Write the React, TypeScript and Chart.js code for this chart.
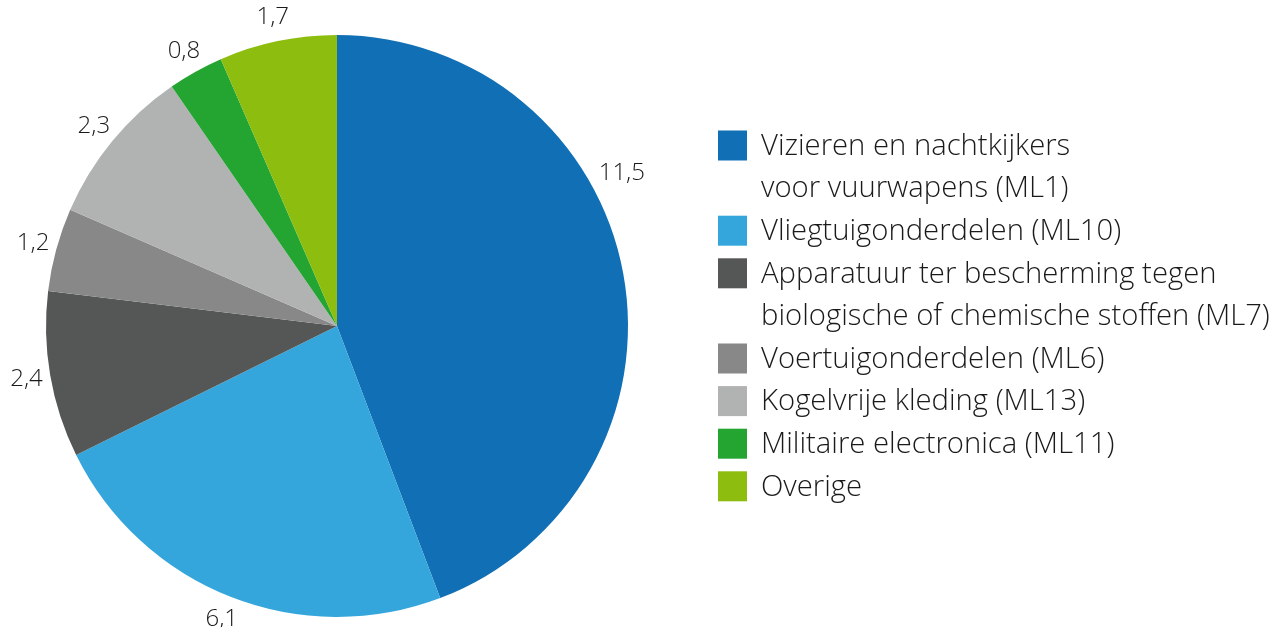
import React, { useEffect, useRef } from "react";
import { Chart, registerables } from "chart.js";

Chart.register(...registerables);

const categories: string[][] = [
  ["Vizieren en nachtkijkers", "voor vuurwapens (ML1)"],
  ["Vliegtuigonderdelen (ML10)"],
  ["Apparatuur ter bescherming tegen", "biologische of chemische stoffen (ML7)"],
  ["Voertuigonderdelen (ML6)"],
  ["Kogelvrije kleding (ML13)"],
  ["Militaire electronica (ML11)"],
  ["Overige"],
];
const values = [11.5, 6.1, 2.4, 1.2, 2.3, 0.8, 1.7];
const colors = ["#116fb5", "#35a6dc", "#545756", "#878887", "#b1b3b3", "#24a532", "#8cbd0f"];

const FONT = '"Open Sans", sans-serif';
const TEXT_COLOR = "#1a1a1a";

const outsideLabels = {
  id: "outsideLabels",
  afterDatasetsDraw(chart: any, _args: any, opts: any) {
    const ctx = chart.ctx;
    const meta = chart.getDatasetMeta(0);
    ctx.save();
    ctx.font = `300 ${opts.size}px ${FONT}`;
    ctx.fillStyle = TEXT_COLOR;
    ctx.textAlign = "center";
    ctx.textBaseline = "middle";
    meta.data.forEach((arc: any, i: number) => {
      const p = arc.getProps(["x", "y", "startAngle", "endAngle", "outerRadius"], true);
      let a = (p.startAngle + p.endAngle) / 2;
      const shift = opts.angleShift?.[i] || 0;
      a += shift;
      const r = p.outerRadius + opts.offset + (opts.extraOffset?.[i] || 0);
      const txt = String(values[i]).replace(".", ",");
      ctx.fillText(txt, p.x + r * Math.cos(a), p.y + r * Math.sin(a));
    });
    ctx.restore();
  },
};

const sideLegend = {
  id: "sideLegend",
  afterDraw(chart: any, _args: any, opts: any) {
    const ctx = chart.ctx;
    ctx.save();
    let longest = "";
    categories.forEach((c) => c.forEach((l) => { if (l.length > longest.length) longest = l; }));
    ctx.font = `300 100px ${FONT}`;
    const w100 = ctx.measureText(longest).width;
    const size = Math.min(30, (100 * opts.maxWidth) / w100);
    ctx.font = `300 ${size}px ${FONT}`;
    ctx.textAlign = "left";
    ctx.textBaseline = "middle";
    let line = 0;
    categories.forEach((lines, i) => {
      const yc = opts.top + line * opts.lineHeight;
      ctx.fillStyle = colors[i];
      ctx.fillRect(opts.boxX, yc - opts.boxH / 2, opts.boxW, opts.boxH);
      ctx.fillStyle = TEXT_COLOR;
      lines.forEach((l, k) => {
        ctx.fillText(l, opts.textX, opts.top + (line + k) * opts.lineHeight + 1);
      });
      line += lines.length;
    });
    ctx.restore();
  },
};

export default function App() {
  const ref = useRef<HTMLCanvasElement | null>(null);
  useEffect(() => {
    if (!ref.current) return;
    const chart = new Chart(ref.current, {
      type: "pie",
      data: {
        labels: categories.map((c) => c.join(" ")),
        datasets: [
          {
            data: values,
            backgroundColor: colors,
            borderWidth: 0,
            hoverOffset: 0,
          },
        ],
      },
      options: {
        responsive: false,
        animation: false,
        layout: { padding: { left: 46, right: 656, top: 35, bottom: 10 } },
        plugins: {
          legend: { display: false },
          tooltip: { enabled: false },
          outsideLabels: { size: 24, offset: 24, angleShift: { 0: -0.31 }, extraOffset: { 0: 8 } },
          sideLegend: {
            top: 145.5,
            lineHeight: 42.6,
            boxX: 718,
            boxW: 29,
            boxH: 30,
            textX: 761,
            maxWidth: 509,
          },
        } as any,
      },
      plugins: [outsideLabels, sideLegend],
    });
    return () => chart.destroy();
  }, []);
  return (
    <div style={{ position: "absolute", left: 0, top: 0, width: 1284, height: 627, background: "#fff" }}>
      <canvas ref={ref} width={1284} height={627} style={{ display: "block" }} />
    </div>
  );
}
